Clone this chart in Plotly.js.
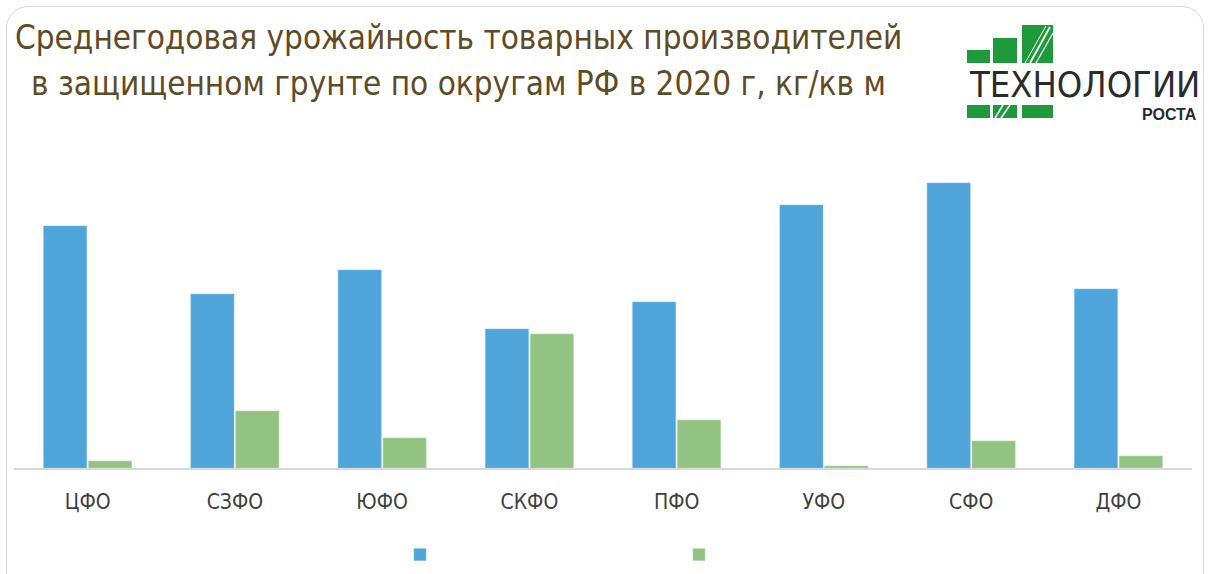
<!DOCTYPE html>
<html>
<head>
<meta charset="utf-8">
<script src="https://cdn.plot.ly/plotly-3.0.1.min.js"></script>
<style>
  html, body { margin: 0; padding: 0; background: #ffffff; }
  #frame { position: absolute; left: 6px; top: 6px; width: 1198px; height: 590px;
           border: 1.5px solid #d9d9d9; border-radius: 22px; box-sizing: border-box; }
  #chart { position: absolute; left: 0; top: 0; width: 1212px; height: 574px; }
</style>
</head>
<body>
<div id="frame"></div>
<div id="chart"></div>
<script>
// ---- data (kg per sq m) ----
const districts = ["ЦФО", "СЗФО", "ЮФО", "СКФО", "ПФО", "УФО", "СФО", "ДФО"];
const seriesA = [48.4, 34.8, 39.6, 27.8, 33.2, 52.6, 57.0, 35.8];
const seriesB = [1.4, 11.4, 6.0, 26.8, 9.6, 0.4, 5.4, 2.4];
const titleLines = ["Среднегодовая урожайность товарных производителей",
                    "в защищенном грунте по округам РФ в 2020 г, кг/кв м"];

const W = 1212, H = 574;
const mL = 14, mR = 20, mT = 130, mB = 106;
const pw = W - mL - mR, ph = H - mT - mB;
const px = x => (x - mL) / pw;
const py = y => (H - mB - y) / ph;

const font = "'DejaVu Sans Condensed', 'Liberation Sans Narrow', Arial, sans-serif";

const traces = [
  { type: "bar", name: "", x: districts, y: seriesA,
    marker: { color: "#4FA5DA", line: { color: "#7cc0ea", width: 0.6 } }, hoverinfo: "x+y" },
  { type: "bar", name: " ", x: districts, y: seriesB,
    marker: { color: "#92C383", line: { color: "#b3d9a7", width: 0.6 } }, hoverinfo: "x+y" }
];

const green = "#1f9a3b";
const rect = (x0, y0, x1, y1) => ({ type: "rect", xref: "paper", yref: "paper",
  x0: px(x0), x1: px(x1), y0: py(y1), y1: py(y0), fillcolor: green, line: { width: 0 } });
const wline = (x0, y0, x1, y1, w) => ({ type: "line", xref: "paper", yref: "paper",
  x0: px(x0), x1: px(x1), y0: py(y0), y1: py(y1), line: { color: "#ffffff", width: w } });

const shapes = [
  rect(967, 50, 990, 63), rect(993, 38, 1017, 63), rect(1022, 25, 1053, 63),
  wline(1030, 63, 1050, 27, 1.8), wline(1036, 63, 1053, 33, 1.2), wline(1025, 63, 1046, 26, 1),
  rect(967, 105, 990, 118), rect(993, 105, 1017, 118), rect(1022, 105, 1053, 118),
  wline(995, 118, 1003, 105, 1.5), wline(1001, 118, 1010, 105, 1.5)
];

const titleFont = { family: font, size: 33, color: "#5f4b25" };

const layout = {
  width: W, height: H,
  margin: { l: mL, r: mR, t: mT, b: mB, autoexpand: false },
  paper_bgcolor: "rgba(0,0,0,0)", plot_bgcolor: "rgba(0,0,0,0)",
  barmode: "group", bargap: 0.39, bargroupgap: 0.04,
  font: { family: font, color: "#404040" },
  xaxis: {
    showgrid: false, zeroline: false, showline: true, linecolor: "#d9d9d9", linewidth: 1.5,
    ticks: "", ticklabelstandoff: 14, tickfont: { family: font, size: 21, color: "#404040" },
    fixedrange: true
  },
  yaxis: { visible: false, range: [0, ph / 5], fixedrange: true },
  showlegend: true,
  legend: {
    orientation: "h", x: px(400), xanchor: "left", y: py(539), yanchor: "top",
    entrywidth: 234, entrywidthmode: "pixels", font: { size: 14 }, traceorder: "normal"
  },
  shapes: shapes,
  annotations: [
    { xref: "paper", yref: "paper", x: px(458), y: py(38), xanchor: "center", yanchor: "middle",
      text: titleLines[0], showarrow: false, font: titleFont },
    { xref: "paper", yref: "paper", x: px(458), y: py(83), xanchor: "center", yanchor: "middle",
      text: titleLines[1], showarrow: false, font: titleFont },
    { xref: "paper", yref: "paper", x: px(967), y: py(84), xanchor: "left", yanchor: "middle",
      text: "ТЕХНОЛОГИИ", showarrow: false,
      font: { family: font, size: 36, color: "#2b2b2b" } },
    { xref: "paper", yref: "paper", x: px(1199), y: py(114), xanchor: "right", yanchor: "middle",
      text: "<b>РОСТА</b>", showarrow: false,
      font: { family: "'Liberation Sans', Arial, sans-serif", size: 16, color: "#2b2b2b" } }
  ]
};

Plotly.newPlot("chart", traces, layout, { displayModeBar: false });
</script>
</body>
</html>
